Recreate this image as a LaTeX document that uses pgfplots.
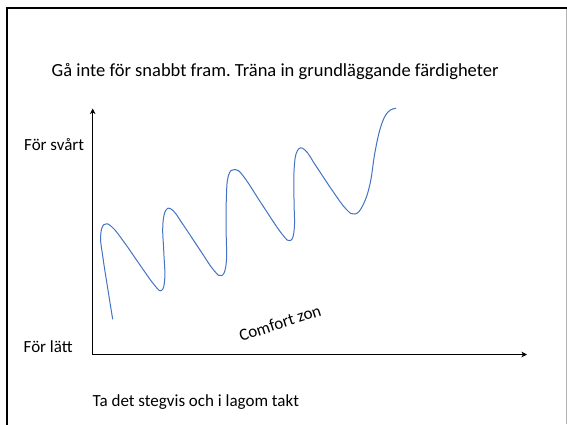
\documentclass[border=0pt]{standalone}
\usepackage{pgfplots}
\pgfplotsset{compat=1.18}
\usepackage{fontspec}
\setmainfont{Carlito}
\usetikzlibrary{arrows.meta}
\definecolor{curveblue}{RGB}{68,114,196}
\frenchspacing
\begin{document}
\begin{tikzpicture}
\path[use as bounding box] (0,0) rectangle (567pt,424pt);
\begin{axis}[
  at={(0,0)}, anchor=south west,
  width=567pt, height=424pt, scale only axis,
  xmin=0, xmax=567, ymin=0, ymax=424, y dir=reverse,
  hide axis, clip=false,
]
% frame
\addplot[black, line width=2.3pt, line cap=rect] coordinates {(7.2,424) (7.2,7.8) (567,7.8)};
\addplot[black!30, line width=0.8pt] coordinates {(566.3,9) (566.3,424)};
% axes
\addplot[black, line width=1.4pt, -{Stealth[length=5.5pt,width=5.5pt,inset=1.5pt]}] coordinates {(92.7,354.5) (92.7,108.5)};
\addplot[black, line width=1.4pt, -{Stealth[length=5.5pt,width=5.5pt,inset=1.5pt]}] coordinates {(92.7,354.5) (527,354.5)};
% curve
\addplot[curveblue, line width=1pt, smooth, tension=0.7] coordinates {
(112.7,319.3) (107.5,287) (103,258) (100.6,237) (104,224.5)
(112,227) (124,242) (140,265) (154,284.5) (161.5,290.5)
(164.8,278) (163.8,252) (162.8,226) (166,210) (173,210.5)
(182,223) (200,250) (214,270.5) (222,275.5) (226.3,262)
(226.2,232) (226.3,200) (228.3,176) (235,169.5) (244,177)
(263,206) (282,234) (290.5,240.5) (294.3,228) (294,200)
(294.2,168) (297.5,150.5) (305,150) (316,166) (332,190)
(346,209) (355,214) (363,205) (370,184) (375,152)
(381,126) (388,112) (396,108.3)
};
% texts
\node[anchor=base west, inner sep=0, font=\fontsize{18.5}{22}\selectfont] at (axis cs:51.5,76) {Gå inte för snabbt fram. Träna in grundläggande färdigheter};
\node[anchor=base west, inner sep=0, font=\fontsize{17}{20}\selectfont] at (axis cs:24,150) {För svårt};
\node[anchor=base west, inner sep=0, font=\fontsize{17}{20}\selectfont] at (axis cs:23.5,352) {För lätt};
\node[anchor=base west, inner sep=0, font=\fontsize{17}{20}\selectfont] at (axis cs:92.5,406) {Ta det stegvis och i lagom takt};
\node[inner sep=0, rotate=18, font=\fontsize{17}{20}\selectfont] at (axis cs:280,323) {Comfort zon};
\end{axis}
\end{tikzpicture}
\end{document}
